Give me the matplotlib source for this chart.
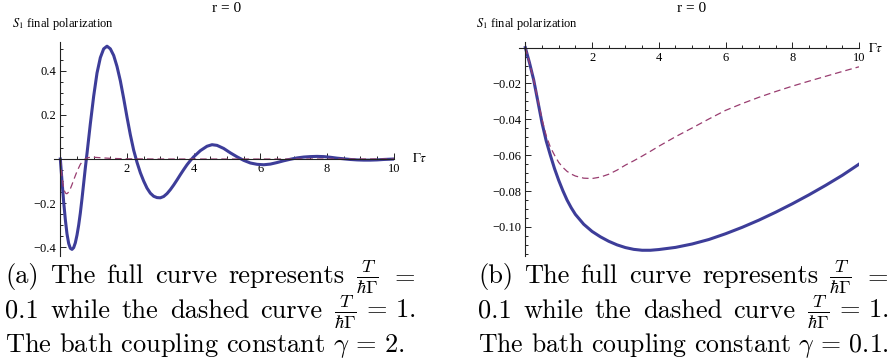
import matplotlib
matplotlib.use("Agg")
import matplotlib.pyplot as plt
from matplotlib.ticker import FixedLocator, MultipleLocator

plt.rcParams["mathtext.fontset"] = "cm"

# panel (a): gamma = 2
a_x_full = [0, 0.025, 0.05, 0.1, 0.15, 0.2, 0.25, 0.3, 0.35, 0.4, 0.45, 0.5, 0.55, 0.6,
            0.65, 0.7, 0.75, 0.8, 0.9, 1.0, 1.1, 1.2, 1.3, 1.4, 1.5, 1.6, 1.7, 1.8,
            1.9, 2.0, 2.1, 2.2, 2.3, 2.4, 2.5, 2.6, 2.7, 2.8, 2.9, 3.0, 3.1, 3.2, 3.3,
            3.4, 3.5, 3.6, 3.7, 3.8, 3.9, 4.0, 4.2, 4.4, 4.55, 4.7, 4.9, 5.1, 5.3,
            5.5, 5.7, 5.9, 6.1, 6.3, 6.5, 6.7, 6.9, 7.1, 7.3, 7.5, 7.7, 7.9, 8.1,
            8.3, 8.5, 8.7, 8.9, 9.1, 9.3, 9.5, 9.7, 10]
a_y_full = [0, -0.05, -0.10, -0.195, -0.275, -0.34, -0.383, -0.405, -0.41, -0.402,
            -0.38, -0.345, -0.30, -0.245, -0.18, -0.11, -0.04, 0.025, 0.16, 0.285,
            0.39, 0.46, 0.50, 0.512, 0.50, 0.47, 0.42, 0.355, 0.275, 0.19, 0.11, 0.04,
            -0.015, -0.062, -0.10, -0.132, -0.155, -0.169, -0.175, -0.176, -0.17,
            -0.157, -0.139, -0.118, -0.095, -0.071, -0.048, -0.026, -0.007, 0.01,
            0.038, 0.058, 0.065, 0.062, 0.048, 0.028, 0.01, -0.006, -0.018, -0.024,
            -0.026, -0.023, -0.016, -0.008, -0.001, 0.005, 0.009, 0.011, 0.012,
            0.011, 0.008, 0.004, 0.001, -0.002, -0.004, -0.005, -0.005, -0.004,
            -0.002, 0.0]
a_x_dash = [0, 0.025, 0.05, 0.075, 0.1, 0.125, 0.15, 0.175, 0.2, 0.25, 0.3, 0.35, 0.4,
            0.5, 0.6, 0.7, 0.8, 0.9, 1.0, 1.2, 1.5, 2.0, 3.0, 10]
a_y_dash = [0, -0.045, -0.08, -0.11, -0.13, -0.145, -0.153, -0.157, -0.157, -0.15,
            -0.135, -0.116, -0.095, -0.056, -0.024, -0.004, 0.005, 0.008, 0.008,
            0.006, 0.003, 0.001, 0.0, 0.0]

# panel (b): gamma = 0.1
b_x = [0, 0.125, 0.25, 0.375, 0.5, 0.625, 0.75, 0.875, 1.0, 1.125, 1.25, 1.375, 1.5,
       1.75, 2.0, 2.25, 2.5, 2.75, 3.0, 3.25, 3.5, 3.75, 4.0, 4.5, 5.0, 5.5, 6.0,
       6.5, 7.0, 7.5, 8.0, 8.5, 9.0, 9.5, 10]
b_y_full = [0, -0.0085, -0.018, -0.030, -0.042, -0.052, -0.060, -0.0675, -0.074,
            -0.0798, -0.085, -0.0893, -0.093, -0.0985, -0.1025, -0.1055, -0.108,
            -0.110, -0.1115, -0.1125, -0.113, -0.113, -0.1126, -0.1114, -0.1095,
            -0.107, -0.1038, -0.1002, -0.0962, -0.0918, -0.0871, -0.0821, -0.0768,
            -0.0712, -0.0650]
b_y_dash = [0, -0.0085, -0.018, -0.029, -0.040, -0.049, -0.0555, -0.060, -0.064,
            -0.0668, -0.069, -0.0705, -0.0716, -0.0728, -0.073, -0.0722, -0.0706,
            -0.0683, -0.0655, -0.0631, -0.0605, -0.0578, -0.055, -0.0497, -0.0448,
            -0.0398, -0.035, -0.0312, -0.0277, -0.0245, -0.0215, -0.0187, -0.016,
            -0.0133, -0.0107]

x_major = [2, 4, 6, 8, 10]
x_labels = ["2", "4", "6", "8", "10"]
a_y_major = [-0.4, -0.2, 0.2, 0.4]
a_y_labels = ["\u22120.4", "\u22120.2", "0.2", "0.4"]
b_y_major = [-0.10, -0.08, -0.06, -0.04, -0.02]
b_y_labels = ["\u22120.10", "\u22120.08", "\u22120.06", "\u22120.04", "\u22120.02"]

blue = "#3d3d99"
purple = "#993d70"
serif = "Liberation Serif"

W, H = 890, 362
fig = plt.figure(figsize=(W / 100, H / 100), dpi=100)


def axes_px(l, t, r, b):
    return fig.add_axes([l / W, 1 - b / H, (r - l) / W, (b - t) / H])


def style(ax, ylim, yminor, ymajor, ylabels):
    ax.set_xlim(-0.19, 10)
    ax.set_ylim(*ylim)
    for s in ("top", "right"):
        ax.spines[s].set_visible(False)
    for s in ("left", "bottom"):
        ax.spines[s].set_position(("data", 0))
        ax.spines[s].set_linewidth(0.8)
        ax.spines[s].set_color("#222222")
    ax.patch.set_alpha(0)
    ax.xaxis.set_major_locator(FixedLocator(x_major))
    ax.xaxis.set_minor_locator(MultipleLocator(0.5))
    ax.set_xticklabels(x_labels)
    ax.yaxis.set_major_locator(FixedLocator(ymajor))
    ax.yaxis.set_minor_locator(MultipleLocator(yminor))
    ax.set_yticklabels(ylabels)
    ax.tick_params(which="both", direction="in", width=0.7, color="#222222")
    ax.tick_params(which="major", length=4.5)
    ax.tick_params(which="minor", length=2.5)
    ax.tick_params(axis="x", pad=3)
    ax.tick_params(axis="y", pad=3)
    for lab in ax.get_xticklabels() + ax.get_yticklabels():
        lab.set_fontfamily(serif)
        lab.set_fontsize(9)


axa = axes_px(54, 42, 393.7, 256)
axa.plot(a_x_full, a_y_full, color=blue, lw=2.2, solid_joinstyle="round")
axa.plot(a_x_dash, a_y_dash, color=purple, lw=0.9, dashes=(5.3, 3.2))
style(axa, (-0.44, 0.531), 0.05, a_y_major, a_y_labels)

axb = axes_px(519, 41.7, 859, 256)
axb.plot(b_x, b_y_full, color=blue, lw=2.2, solid_joinstyle="round")
axb.plot(b_x, b_y_dash, color=purple, lw=0.9, dashes=(5.3, 3.2))
style(axb, (-0.1162, 0.0033), 0.005, b_y_major, b_y_labels)

# labels around the plots
for cx, lx, gx, gy in ((227, 12, 412, 158), (692, 476, 868, 48)):
    fig.text(cx / W, 1 - 8 / H, "r = 0", ha="center", va="center",
             family=serif, fontsize=11)
    fig.text(lx / W, 1 - 24 / H, r"$S_1$ final polarization", ha="left",
             va="center", family=serif, fontsize=9, math_fontfamily="stix")
    fig.text(gx / W, 1 - gy / H, r"$\Gamma\tau$", ha="left", va="center",
             family=serif, fontsize=9.5, math_fontfamily="stix")

# captions (justified like the LaTeX subcaptions)
cap = dict(family="cmr10", fontsize=19, va="baseline")
frac = r"$\frac{T}{\hbar\Gamma}$"
renderer = fig.canvas.get_renderer()


def justify(items, x0, x1, y):
    texts = [fig.text(0, 1 - y / H, s, ha="left", **cap) for s in items]
    widths = [t.get_window_extent(renderer).width for t in texts]
    gap = (x1 - x0 - sum(widths)) / (len(items) - 1)
    x = x0
    for t, w in zip(texts, widths):
        t.set_x(x / W)
        x += w + gap


for x0, tag, gam in ((5, "(a)", "2"), (478, "(b)", "0.1")):
    x1 = x0 + 411
    justify([tag, "The", "full", "curve", "represents", frac, r"$=$"], x0, x1, 283)
    justify(["0.1", "while", "the", "dashed", "curve",
             r"$\frac{T}{\hbar\Gamma}\,=\,1.$"], x0, x1, 318)
    last = fig.text(x0 / W, 1 - 352 / H,
                    r"The bath coupling constant $\gamma\,=\," + gam + ".$",
                    ha="left", **cap)
    # keep the last line inside its column
    w = last.get_window_extent(renderer).width
    if w > x1 - x0:
        last.set_fontsize(19 * (x1 - x0) / w)

fig.savefig("out.png", dpi=100)
